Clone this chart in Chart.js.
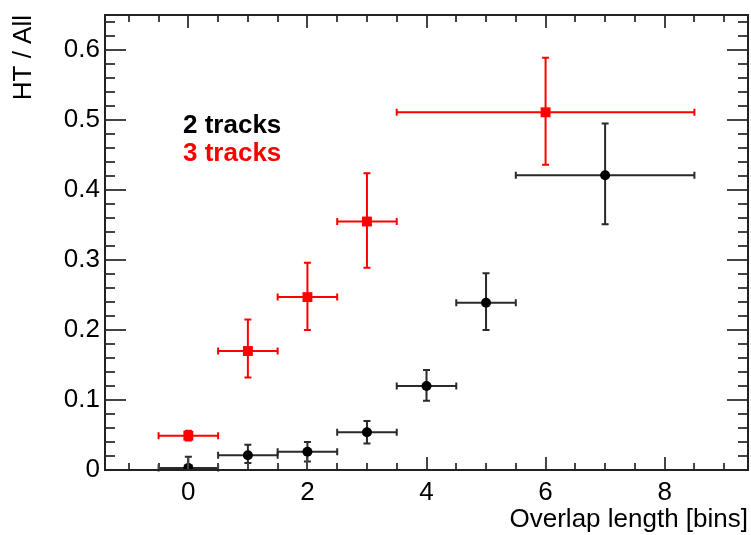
<!DOCTYPE html>
<html>
<head>
<meta charset="utf-8">
<script src="https://cdn.jsdelivr.net/npm/chart.js@4/dist/chart.umd.min.js"></script>
<style>
  html, body { margin: 0; padding: 0; background: #fff; }
  #wrap { width: 751px; height: 535px; }
</style>
</head>
<body>
<div id="wrap"><canvas id="c" width="751" height="535"></canvas></div>
<script>
'use strict';

// 2 tracks (black)
var xTwo     = [0, 1, 2, 3, 4, 5, 7];
var yTwo     = [0.003, 0.021, 0.026, 0.054, 0.120, 0.239, 0.421];
var xLoTwo   = [-0.5, 0.5, 1.5, 2.5, 3.5, 4.5, 5.5];
var xHiTwo   = [0.5, 1.5, 2.5, 3.5, 4.5, 5.5, 8.5];
var errUpTwo = [0.016, 0.015, 0.014, 0.016, 0.023, 0.042, 0.074];
var errDnTwo = [0.003, 0.011, 0.014, 0.016, 0.021, 0.039, 0.070];

// 3 tracks (red)
var xThree     = [0, 1, 2, 3, 6];
var yThree     = [0.049, 0.170, 0.247, 0.355, 0.511];
var xLoThree   = [-0.5, 0.5, 1.5, 2.5, 3.5];
var xHiThree   = [0.5, 1.5, 2.5, 3.5, 8.5];
var errUpThree = [0.007, 0.045, 0.049, 0.069, 0.078];
var errDnThree = [0.007, 0.038, 0.047, 0.066, 0.075];

var xMajorTicks = [0, 2, 4, 6, 8];
var yMajorTicks = [0, 0.1, 0.2, 0.3, 0.4, 0.5, 0.6];

var FONT = '"Liberation Sans", Arial, Helvetica, sans-serif';

function points(xs, ys) {
  return xs.map(function (x, i) { return { x: x, y: ys[i] }; });
}

// draws horizontal/vertical error bars with small end caps
var errorBars = {
  id: 'errorBars',
  beforeDatasetsDraw: function (chart) {
    var ctx = chart.ctx, xs = chart.scales.x, ys = chart.scales.y;
    chart.data.datasets.forEach(function (ds) {
      ctx.save();
      ctx.strokeStyle = ds.errColor;
      ctx.lineWidth = 2;
      var cap = 3.5;
      ds.data.forEach(function (p, i) {
        var px = xs.getPixelForValue(p.x), py = ys.getPixelForValue(p.y);
        var x0 = xs.getPixelForValue(ds.xLo[i]), x1 = xs.getPixelForValue(ds.xHi[i]);
        var y0 = ys.getPixelForValue(p.y - ds.errDn[i]), y1 = ys.getPixelForValue(p.y + ds.errUp[i]);
        ctx.beginPath();
        ctx.moveTo(x0, py); ctx.lineTo(x1, py);
        ctx.moveTo(x0, py - cap); ctx.lineTo(x0, py + cap);
        ctx.moveTo(x1, py - cap); ctx.lineTo(x1, py + cap);
        ctx.moveTo(px, y0); ctx.lineTo(px, y1);
        ctx.moveTo(px - cap, y1); ctx.lineTo(px + cap, y1);
        if (ds.errDn[i] < p.y) { ctx.moveTo(px - cap, y0); ctx.lineTo(px + cap, y0); }
        ctx.stroke();
      });
      ctx.restore();
    });
  }
};

// ROOT-like frame with ticks pointing inwards on all four sides
var rootFrame = {
  id: 'rootFrame',
  afterDatasetsDraw: function (chart) {
    var ctx = chart.ctx, a = chart.chartArea, xs = chart.scales.x, ys = chart.scales.y;
    ctx.save();
    ctx.strokeStyle = '#444';
    ctx.lineWidth = 2;
    ctx.beginPath();
    var v, px, len;
    for (v = -1; v <= 9.001; v += 0.5) {
      px = Math.round(xs.getPixelForValue(v));
      len = (Math.abs(v % 2) < 1e-6) ? 13 : 7;
      ctx.moveTo(px, a.bottom); ctx.lineTo(px, a.bottom - len);
      ctx.moveTo(px, a.top); ctx.lineTo(px, a.top + len);
    }
    for (var k = 0; k <= 32; k++) {
      v = k * 0.02;
      px = Math.round(ys.getPixelForValue(v));
      len = (k % 5 === 0) ? 21 : 10;
      ctx.moveTo(a.left, px); ctx.lineTo(a.left + len, px);
      ctx.moveTo(a.right, px); ctx.lineTo(a.right - len, px);
    }
    ctx.stroke();
    ctx.strokeStyle = '#222';
    ctx.strokeRect(a.left, a.top, a.right - a.left, a.bottom - a.top);

    // legend text
    ctx.font = 'bold 26px ' + FONT;
    ctx.textBaseline = 'alphabetic';
    ctx.textAlign = 'left';
    ctx.fillStyle = '#000';
    ctx.fillText('2 tracks', 183, 133);
    ctx.fillStyle = '#ff0000';
    ctx.fillText('3 tracks', 183, 161);
    ctx.restore();
  }
};

var chart = new Chart(document.getElementById('c'), {
  type: 'scatter',
  data: {
    datasets: [{
      label: '3 tracks',
      data: points(xThree, yThree),
      xLo: xLoThree, xHi: xHiThree, errUp: errUpThree, errDn: errDnThree,
      errColor: '#ff0000',
      pointStyle: 'rect',
      pointRadius: 7,
      backgroundColor: '#ff0000',
      borderColor: '#ff0000',
      borderWidth: 0
    }, {
      label: '2 tracks',
      data: points(xTwo, yTwo),
      xLo: xLoTwo, xHi: xHiTwo, errUp: errUpTwo, errDn: errDnTwo,
      errColor: '#2a2a2a',
      pointStyle: 'circle',
      pointRadius: 5,
      backgroundColor: '#000',
      borderColor: '#000',
      borderWidth: 0
    }]
  },
  options: {
    responsive: false,
    animation: false,
    layout: { autoPadding: false, padding: { top: 15, right: 3, left: 0, bottom: 0 } },
    plugins: { legend: { display: false }, tooltip: { enabled: false } },
    scales: {
      x: {
        type: 'linear',
        min: -1.4, max: 9.4,
        grid: { display: false, drawTicks: false },
        border: { display: false },
        ticks: {
          stepSize: 2, includeBounds: false, padding: 7, color: '#000',
          font: { family: FONT, size: 26 },
          callback: function (v) { return xMajorTicks.indexOf(v) >= 0 ? String(v) : ''; }
        },
        title: {
          display: true, text: 'Overlap length [bins]', align: 'end', color: '#000',
          font: { family: FONT, size: 26, lineHeight: 1.2 },
          padding: { top: 0, bottom: 0 }
        },
        afterFit: function (s) { s.height = 65; s.paddingLeft = 0; s.paddingRight = 0; }
      },
      y: {
        min: 0, max: 0.65,
        grid: { display: false, drawTicks: false },
        border: { display: false },
        ticks: {
          stepSize: 0.1, includeBounds: false, padding: 5, color: '#000',
          font: { family: FONT, size: 26 },
          callback: function (v) {
            var r = Math.round(v * 10) / 10;
            return r === 0 ? '0' : r.toFixed(1);
          }
        },
        title: {
          display: true, text: 'HT / All', align: 'end', color: '#000',
          font: { family: FONT, size: 26, lineHeight: 1.2 },
          padding: { top: 8, bottom: 0 }
        },
        afterFit: function (s) { s.width = 105; s.paddingTop = 0; s.paddingBottom = 0; }
      }
    }
  },
  plugins: [errorBars, rootFrame]
});
</script>
</body>
</html>
